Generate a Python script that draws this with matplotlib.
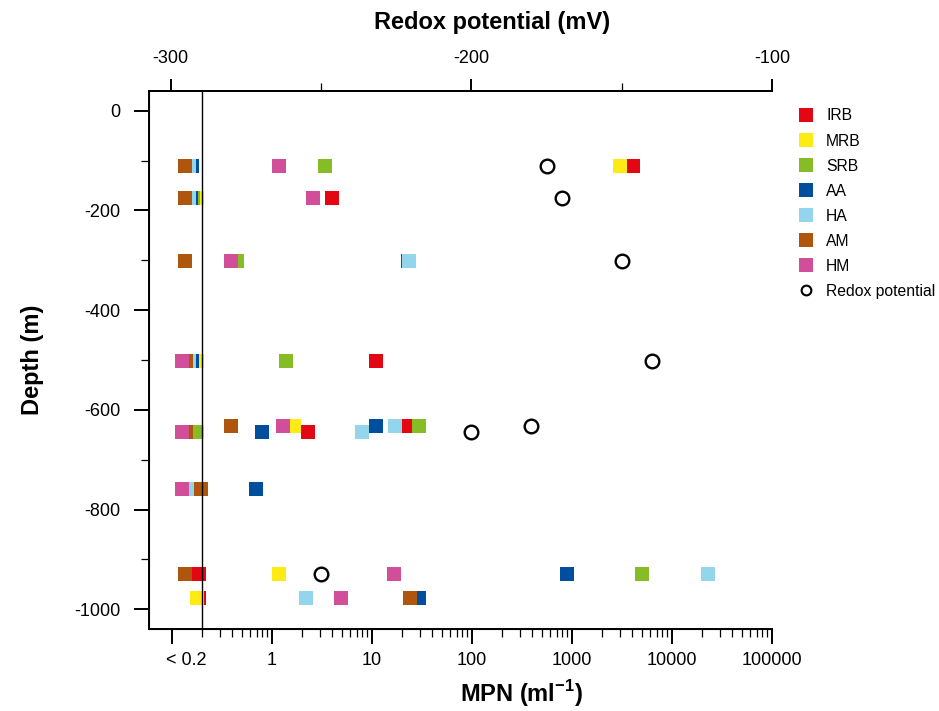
import numpy as np
import matplotlib
matplotlib.use('Agg')
import matplotlib.pyplot as plt
from matplotlib.lines import Line2D
from matplotlib.ticker import FixedLocator, MultipleLocator, NullFormatter

plt.rcParams['font.family'] = ['Liberation Sans', 'DejaVu Sans']
plt.rcParams['axes.unicode_minus'] = False
plt.rcParams['mathtext.fontset'] = 'custom'
plt.rcParams['mathtext.rm'] = 'Liberation Sans'
plt.rcParams['mathtext.bf'] = 'Liberation Sans:bold'

nan = np.nan
# sampling depths (m)
depth = [-111, -175, -302, -502, -632, -645, -758, -930, -977]
# MPN (ml-1) per group at each depth, nan where no mark
irb = [4070, 3.95, 22.7, 10.9, 21.8, 2.28, nan, 0.186, 0.186]
mrb = [3020, 0.177, nan, 0.177, 1.67, 0.177, nan, 1.18, 0.177]
srb = [3.35, 0.164, 0.443, 1.37, 29.5, 0.17, nan, 4980, nan]
aa = [0.157, 0.155, nan, 0.157, 10.9, 0.789, 0.687, 898, 29.4]
ha = [0.148, 0.148, 23.7, 0.148, 17.0, 7.87, 0.148, 23000, 2.17]
am = [0.136, 0.136, 0.136, 0.137, 0.389, 0.137, 0.194, 0.136, 24.0]
hm = [1.175, 2.55, 0.389, 0.126, 1.28, 0.126, 0.126, 16.7, 4.9]

groups = ['IRB', 'MRB', 'SRB', 'AA', 'HA', 'AM', 'HM']
colors = ['#E30613', '#FFEB14', '#86BC25', '#004F9F', '#93D5EC', '#AE560E', '#D14E98']

# redox potential (mV)
redox_depth = [-111, -175, -302, -502, -632, -645, -930]
redox = [-175, -170, -150, -140, -180, -200, -250]

xticks = [0.1, 1, 10, 100, 1000, 10000, 100000]
xticklabels = ['', '1', '10', '100', '1000', '10000', '100000']

fig = plt.figure(figsize=(9.39, 7.11), dpi=100)
ax = fig.add_axes([0.159, 0.1149, 0.6632, 0.7575])

for vals, c in zip([irb, mrb, srb, aa, ha, am, hm], colors):
    ax.plot(vals, depth, 's', color=c, ms=9.6, mew=0, ls='none')

ax.axvline(0.2, color='black', lw=1.0)

ax.set_xscale('log')
ax.set_xlim(0.0593, 100000)
ax.set_ylim(-1040, 40)
ax.xaxis.set_major_locator(FixedLocator(xticks))
ax.set_xticklabels(xticklabels)
# minor ticks 2..9 in every decade from 0.1 on
minor = [m * d for d in xticks[:-1] for m in range(2, 10)]
ax.xaxis.set_minor_locator(FixedLocator(minor))
ax.xaxis.set_minor_formatter(NullFormatter())
ax.yaxis.set_major_locator(MultipleLocator(200))
ax.yaxis.set_minor_locator(MultipleLocator(100))

ax.tick_params(axis='x', which='major', length=10.8, width=1.4, pad=5.6, labelsize=13)
ax.tick_params(axis='x', which='minor', length=5.8, width=0.9)
ax.tick_params(axis='y', which='major', length=10.8, width=1.4, pad=9.8, labelsize=13)
ax.tick_params(axis='y', which='minor', length=5.8, width=0.9)
ax.annotate('< 0.2', xy=(0.14, 0), xycoords=('data', 'axes fraction'),
            xytext=(0, -16.4), textcoords='offset points', ha='center', va='top', fontsize=13)

for s in ['left', 'bottom', 'top']:
    ax.spines[s].set_linewidth(1.4)
ax.spines['right'].set_visible(False)

ax.set_xlabel('MPN (ml$^{\\mathbf{-1}}$)', fontsize=17, fontweight='bold', labelpad=6.5)
ax.xaxis.label.set_x(0.597)
ax.set_ylabel('Depth (m)', fontsize=17, fontweight='bold', labelpad=22)

# redox potential on top axis
ax2 = ax.twiny()
ax2.plot(redox, redox_depth, 'o', mfc='white', mec='black', ms=9.8, mew=1.7, ls='none')
ax2.set_xlim(-307.1, -100)
ax2.xaxis.set_major_locator(MultipleLocator(100))
ax2.xaxis.set_minor_locator(MultipleLocator(50))
ax2.tick_params(axis='x', which='major', length=8.9, width=1.4, pad=8, labelsize=13)
ax2.tick_params(axis='x', which='minor', length=5.5, width=0.9)
ax2.spines['right'].set_visible(False)
ax2.spines['top'].set_linewidth(1.4)
ax2.set_xlabel('Redox potential (mV)', fontsize=17, fontweight='bold', labelpad=15.5)
ax2.xaxis.label.set_x(0.5503)

handles = [Line2D([], [], marker='s', ls='none', color=c, ms=9.6, mew=0) for c in colors]
handles.append(Line2D([], [], marker='o', ls='none', mfc='white', mec='black', ms=7, mew=1.5))
fig.legend(handles, groups + ['Redox potential'], loc='upper left',
           bbox_to_anchor=(0.8503, 1 - 108.5 / 711), bbox_transform=fig.transFigure,
           frameon=False, fontsize=11.3, handlelength=0.93, handletextpad=0.83,
           labelspacing=0.64, borderpad=0, borderaxespad=0)

fig.savefig('out.png', dpi=100)
